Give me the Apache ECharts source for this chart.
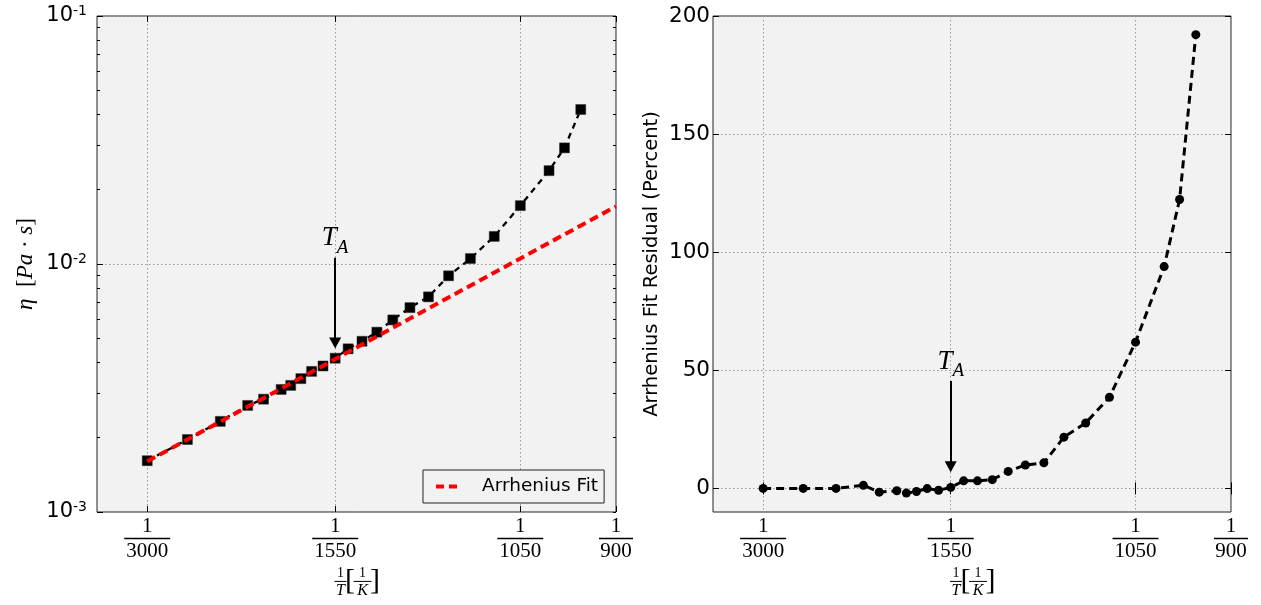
<!DOCTYPE html>
<html><head><meta charset="utf-8">
<script src="https://cdn.jsdelivr.net/npm/echarts@6/dist/echarts.min.js"></script>
<style>html,body{margin:0;padding:0;background:#fff}#c{width:1261px;height:605px}</style>
</head><body><div id="c"></div>
<script>
// ---- data ----
const temperaturesK = [3000, 2500, 2200, 2000, 1900, 1800, 1750, 1700, 1650, 1600, 1550, 1500, 1450, 1400, 1350, 1300, 1250, 1200, 1150, 1100, 1050, 1000, 975, 950];
const viscosityPaS = [1.61e-3, 1.96e-3, 2.32e-3, 2.69e-3, 2.85e-3, 3.12e-3, 3.24e-3, 3.45e-3, 3.69e-3, 3.88e-3, 4.17e-3, 4.55e-3, 4.88e-3, 5.31e-3, 5.95e-3, 6.67e-3, 7.37e-3, 8.96e-3, 1.052e-2, 1.292e-2, 1.719e-2, 2.379e-2, 2.939e-2, 4.198e-2];
const residualPercent = [0, 0, 0, 1.3, -1.6, -1.0, -2.0, -1.3, -0.1, -0.8, 0.4, 3.2, 3.2, 3.7, 7.2, 9.9, 10.8, 21.7, 27.7, 38.6, 61.9, 93.9, 122.3, 192.1];
const fitTemperaturesK = [3000, 900];
const fitViscosityPaS = [1.60e-3, 1.707e-2];
const xTickTemperaturesK = [3000, 1550, 1050, 900];
const xRangeTemperaturesK = [4000, 900];
const leftYMajorTicks = [0.001, 0.01, 0.1];
const leftYMinorTicks = [0.002, 0.003, 0.004, 0.005, 0.006, 0.007, 0.008, 0.009, 0.02, 0.03, 0.04, 0.05, 0.06, 0.07, 0.08, 0.09];
const rightYTicks = [0, 50, 100, 150, 200];
const rightYRange = [-10, 200];
const transitionTemperatureK = 1550;
const leftArrowViscosity = [1.06e-2, 4.80e-3];
const rightArrowResidual = [45.5, 9.2];

// ---- helpers ----
const inv = t => 1 / t;
const xTicks = xTickTemperaturesK.map(inv);
const SERIF = 'Liberation Serif';
const SANS = 'DejaVu Sans';

const fracRich = {
  n: {fontFamily: SERIF, fontSize: 21, lineHeight: 20, color: '#000'},
  d: {fontFamily: SERIF, fontSize: 21, lineHeight: 20, color: '#000'},
  bar4: {width: 46, height: 1.3, lineHeight: 5, backgroundColor: '#000'},
  bar3: {width: 34, height: 1.3, lineHeight: 5, backgroundColor: '#000'}
};
function fracLabel(v) {
  const d = Math.round(1 / v);
  const bar = String(d).length > 3 ? 'bar4' : 'bar3';
  return '{n|1}\n{' + bar + '|}\n{d|' + d + '}';
}
function expLabel(v) {
  const e = Math.round(Math.log10(v));
  return '{b|10}{s|' + e + '}';
}
const expRich = {
  b: {fontFamily: SANS, fontSize: 21, lineHeight: 24, color: '#000', verticalAlign: 'middle'},
  s: {fontFamily: SANS, fontSize: 14, lineHeight: 16, color: '#000', verticalAlign: 'top'}
};
const xNameRich = {
  n1: {fontFamily: SERIF, fontSize: 14, lineHeight: 12, width: 12, color: '#000'},
  n2: {fontFamily: SERIF, fontSize: 14, lineHeight: 12, width: 18, color: '#000'},
  g1: {width: 7, lineHeight: 12},
  g2: {width: 7, lineHeight: 12},
  b1: {width: 12, height: 1, lineHeight: 4, backgroundColor: '#000'},
  b2: {width: 18, height: 1, lineHeight: 4, backgroundColor: '#000'},
  lb: {fontFamily: SERIF, fontSize: 30, lineHeight: 4, width: 7, color: '#000'},
  rb: {fontFamily: SERIF, fontSize: 30, lineHeight: 4, width: 7, color: '#000'},
  t1: {fontFamily: SERIF, fontStyle: 'italic', fontSize: 16, lineHeight: 14, width: 12, color: '#000'},
  t2: {fontFamily: SERIF, fontStyle: 'italic', fontSize: 16, lineHeight: 14, width: 18, color: '#000'}
};
const xName = '{n1|1}{g1|}{n2|1}{g2|}\n{b1|}{lb|[}{b2|}{rb|]}\n{t1|T}{g1|}{t2|K}{g2|}';
const taRich = {
  t: {fontFamily: SERIF, fontStyle: 'italic', fontSize: 27, lineHeight: 29, verticalAlign: 'top', color: '#000'},
  s: {fontFamily: SERIF, fontStyle: 'italic', fontSize: 19, lineHeight: 19, padding: [14, 0, 0, 0], verticalAlign: 'top', color: '#000'}
};

const splitStyle = {show: true, lineStyle: {color: '#9a9a9a', width: 1, type: [1.5, 2.5]}};
const GRIDS = [
  {left: 97, top: 16, width: 519, height: 496},
  {left: 713, top: 16, width: 518, height: 496}
];

function xAxes(gi) {
  const base = {type: 'value', gridIndex: gi, min: inv(xRangeTemperaturesK[0]), max: inv(xRangeTemperaturesK[1])};
  return [
    Object.assign({}, base, {
      position: 'bottom',
      axisLine: {show: false},
      axisTick: {show: true, inside: true, length: 6, customValues: xTicks, lineStyle: {color: '#000'}},
      axisLabel: {customValues: xTicks, formatter: fracLabel, rich: fracRich, margin: 4, showMinLabel: true, showMaxLabel: true},
      splitLine: splitStyle,
      name: xName, nameLocation: 'middle', nameGap: 55,
      nameTextStyle: {rich: xNameRich}
    }),
    Object.assign({}, base, {
      position: 'top',
      axisLine: {show: false},
      axisTick: {show: true, inside: true, length: 6, customValues: xTicks, lineStyle: {color: '#000'}},
      axisLabel: {show: false},
      splitLine: {show: false}
    })
  ];
}

const option = {
  animation: false,
  backgroundColor: '#fff',
  grid: GRIDS.map(g => Object.assign({show: true, backgroundColor: '#f2f2f2', borderColor: '#222', borderWidth: 1, containLabel: false}, g)),
  xAxis: [].concat(xAxes(0), xAxes(1)),
  yAxis: [
    { // 0 left major
      type: 'log', logBase: 10, gridIndex: 0, position: 'left', min: 0.001, max: 0.1,
      axisLine: {show: false},
      axisTick: {show: true, inside: true, length: 6, customValues: leftYMajorTicks, lineStyle: {color: '#000'}},
      axisLabel: {customValues: leftYMajorTicks, formatter: expLabel, rich: expRich, margin: 10},
      splitLine: splitStyle,
      name: '{i|η}{u|  [}{i|Pa}{u| · }{i|s}{u|]}', nameLocation: 'middle', nameGap: 60,
      nameTextStyle: {rich: {
        i: {fontFamily: SERIF, fontStyle: 'italic', fontSize: 23, color: '#000'},
        u: {fontFamily: SERIF, fontSize: 23, color: '#000'}
      }}
    },
    { // 1 left minor
      type: 'log', logBase: 10, gridIndex: 0, position: 'left', min: 0.001, max: 0.1,
      axisLine: {show: false},
      axisTick: {show: true, inside: true, length: 3, customValues: leftYMinorTicks, lineStyle: {color: '#000'}},
      axisLabel: {show: false}, splitLine: {show: false}
    },
    { // 2 right major+minor
      type: 'log', logBase: 10, gridIndex: 0, position: 'right', min: 0.001, max: 0.1,
      axisLine: {show: false},
      axisTick: {show: true, inside: true, length: 3, customValues: leftYMinorTicks.concat(leftYMajorTicks), lineStyle: {color: '#000'}},
      axisLabel: {show: false}, splitLine: {show: false}
    },
    { // 3 residual left
      type: 'value', gridIndex: 1, position: 'left', min: rightYRange[0], max: rightYRange[1],
      axisLine: {show: false},
      axisTick: {show: true, inside: true, length: 6, customValues: rightYTicks, lineStyle: {color: '#000'}},
      axisLabel: {customValues: rightYTicks, fontFamily: SANS, fontSize: 21.5, color: '#000', margin: 3},
      splitLine: splitStyle,
      name: 'Arrhenius Fit Residual (Percent)', nameLocation: 'middle', nameGap: 51,
      nameTextStyle: {fontFamily: SANS, fontSize: 19.5, color: '#000'}
    },
    { // 4 residual right
      type: 'value', gridIndex: 1, position: 'right', min: rightYRange[0], max: rightYRange[1],
      axisLine: {show: false},
      axisTick: {show: true, inside: true, length: 6, customValues: rightYTicks, lineStyle: {color: '#000'}},
      axisLabel: {show: false}, splitLine: {show: false}
    }
  ],
  legend: {
    data: [{name: 'Arrhenius Fit', icon: 'path://M0 0H8V4H0ZM13 0H21V4H13Z'}],
    left: 423, top: 470,
    padding: [6, 6, 6, 13],
    itemWidth: 21, itemHeight: 4,
    borderColor: '#222', borderWidth: 1, borderRadius: 0,
    backgroundColor: '#f2f2f2',
    textStyle: {fontFamily: SANS, fontSize: 18.5, lineHeight: 21, color: '#000', padding: [0, 0, 0, 20]}
  },
  series: [
    {
      name: 'Viscosity', type: 'line', xAxisIndex: 0, yAxisIndex: 0,
      data: temperaturesK.map((t, i) => [inv(t), viscosityPaS[i]]),
      symbol: 'rect', symbolSize: 10,
      itemStyle: {color: '#000', borderColor: '#333', borderWidth: 0.5},
      lineStyle: {color: '#000', width: 2.3, type: [6, 5]},
      z: 3,
      markLine: {
        silent: true, animation: false,
        lineStyle: {color: '#000', width: 2, type: 'solid'},
        label: {show: true, position: 'start', distance: 4, formatter: '{t|T}{s|A}', rich: taRich},
        data: [[
          {coord: [inv(transitionTemperatureK), leftArrowViscosity[0]], symbol: 'none'},
          {coord: [inv(transitionTemperatureK), leftArrowViscosity[1]], symbol: 'triangle', symbolSize: [12, 11]}
        ]]
      }
    },
    {
      name: 'Arrhenius Fit', type: 'line', xAxisIndex: 0, yAxisIndex: 0,
      data: fitTemperaturesK.map((t, i) => [inv(t), fitViscosityPaS[i]]),
      symbol: 'none', itemStyle: {color: '#ff0000'},
      lineStyle: {color: '#ff0000', width: 4, type: [9, 5]},
      z: 4
    },
    {
      name: 'Residual', type: 'line', xAxisIndex: 2, yAxisIndex: 3,
      data: temperaturesK.map((t, i) => [inv(t), residualPercent[i]]),
      symbol: 'circle', symbolSize: 9,
      itemStyle: {color: '#000'},
      lineStyle: {color: '#000', width: 3, type: [8, 5]},
      z: 3,
      markLine: {
        silent: true, animation: false,
        lineStyle: {color: '#000', width: 2, type: 'solid'},
        label: {show: true, position: 'start', distance: 4, formatter: '{t|T}{s|A}', rich: taRich},
        data: [[
          {coord: [inv(transitionTemperatureK), rightArrowResidual[0]], symbol: 'none'},
          {coord: [inv(transitionTemperatureK), rightArrowResidual[1]], symbol: 'triangle', symbolSize: [12, 11]}
        ]]
      }
    }
  ]
};
const chart = echarts.init(document.getElementById('c'), null, {renderer: 'canvas'});
chart.setOption(option);
</script>
</body></html>
